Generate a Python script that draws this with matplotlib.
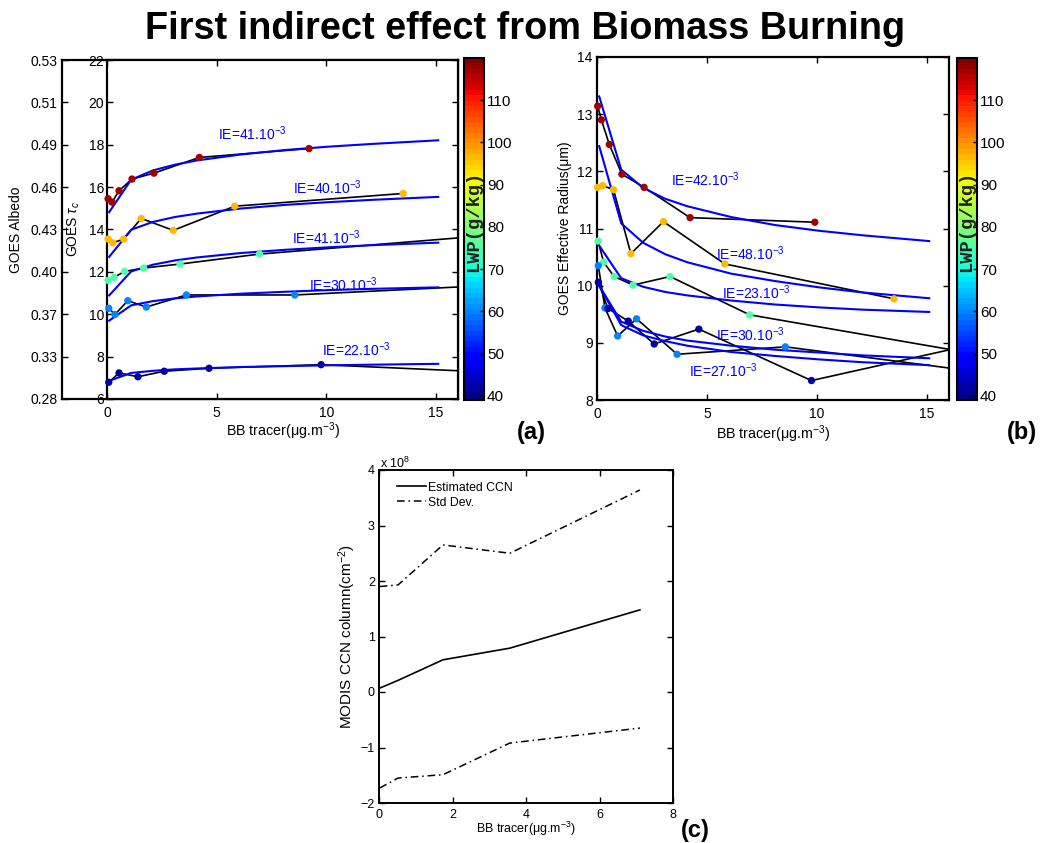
import matplotlib.pyplot as plt
from matplotlib.cm import ScalarMappable
from matplotlib.colors import Normalize

plt.rcParams["font.family"] = ["Liberation Sans", "DejaVu Sans"]
plt.rcParams["mathtext.fontset"] = "custom"
plt.rcParams["mathtext.rm"] = "Liberation Sans"
plt.rcParams["mathtext.it"] = "Liberation Sans:italic"
plt.rcParams["mathtext.bf"] = "Liberation Sans:bold"

# LWP class of each series (g/kg) -> marker colour
lwp_classes = [117, 97, 75, 60, 42]
lwp_min, lwp_max = 39, 120
cbar_ticks = [40, 50, 60, 70, 80, 90, 100, 110]

# panel (a): GOES optical thickness, one series per LWP class
a_x_117 = [0.05, 0.23, 0.55, 1.14, 2.14, 4.21, 9.21]
a_y_117 = [15.45, 15.29, 15.83, 16.38, 16.66, 17.40, 17.82]
a_x_97 = [0.05, 0.27, 0.76, 1.56, 3.02, 5.82, 13.5]
a_y_97 = [13.55, 13.37, 13.55, 14.52, 13.96, 15.10, 15.70]
a_x_75 = [0.05, 0.32, 0.80, 1.67, 3.33, 6.95, 20.0]
a_y_75 = [11.60, 11.74, 12.02, 12.18, 12.37, 12.84, 13.94]
a_x_60 = [0.08, 0.36, 0.95, 1.79, 3.62, 8.56, 20.0]
a_y_60 = [10.28, 9.99, 10.64, 10.34, 10.91, 10.91, 11.49]
a_x_42 = [0.08, 0.55, 1.41, 2.61, 4.65, 9.76, 20.0]
a_y_42 = [6.79, 7.23, 7.05, 7.31, 7.45, 7.62, 7.15]

# fitted curves (same x grid for every fit)
fit_x = [0.1, 1.1, 2.1, 3.1, 4.1, 6.1, 8.1, 10.1, 12.1, 15.1]
fit_a_117 = [14.82, 16.35, 16.79, 17.06, 17.26, 17.54, 17.75, 17.91, 18.04, 18.21]
fit_a_97 = [12.71, 13.99, 14.36, 14.59, 14.75, 14.99, 15.16, 15.29, 15.40, 15.54]
fit_a_75 = [10.89, 12.02, 12.34, 12.54, 12.68, 12.89, 13.04, 13.16, 13.26, 13.38]
fit_a_60 = [9.70, 10.42, 10.62, 10.75, 10.84, 10.97, 11.06, 11.14, 11.20, 11.27]
fit_a_42 = [6.86, 7.23, 7.33, 7.40, 7.44, 7.51, 7.55, 7.59, 7.62, 7.66]

tau_ticks = [6, 8, 10, 12, 14, 16, 18, 20, 22]
albedo_labels = ["0.28", "0.33", "0.37", "0.40", "0.43", "0.46", "0.49", "0.51", "0.53"]

a_ie = ["41", "40", "41", "30", "22"]
a_ie_x = [5.05, 8.5, 8.45, 9.21, 9.82]
a_ie_y = [18.23, 15.69, 13.33, 11.08, 8.01]

# panel (b): GOES effective radius
b_x_117 = [0.03, 0.20, 0.56, 1.13, 2.14, 4.23, 9.90]
b_y_117 = [13.14, 12.90, 12.47, 11.95, 11.72, 11.19, 11.11]
b_x_97 = [0.03, 0.26, 0.75, 1.54, 3.02, 5.81, 13.5]
b_y_97 = [11.72, 11.75, 11.68, 10.56, 11.12, 10.38, 9.77]
b_x_75 = [0.05, 0.30, 0.78, 1.64, 3.32, 6.94, 20.0]
b_y_75 = [10.78, 10.41, 10.16, 10.01, 10.16, 9.49, 8.62]
b_x_60 = [0.06, 0.36, 0.94, 1.80, 3.64, 8.56, 20.0]
b_y_60 = [10.35, 9.61, 9.12, 9.42, 8.80, 8.93, 8.36]
b_x_42 = [0.06, 0.50, 1.42, 2.60, 4.63, 9.75, 20.0]
b_y_42 = [10.06, 9.60, 9.38, 8.98, 9.24, 8.34, 9.22]

fit_b_117 = [13.31, 12.03, 11.71, 11.52, 11.39, 11.20, 11.06, 10.96, 10.88, 10.78]
fit_b_97 = [12.44, 11.09, 10.75, 10.55, 10.41, 10.21, 10.08, 9.97, 9.88, 9.78]
fit_b_75 = [10.70, 10.13, 9.98, 9.89, 9.83, 9.74, 9.67, 9.62, 9.58, 9.54]
fit_b_60 = [10.00, 9.31, 9.13, 9.03, 8.95, 8.84, 8.77, 8.71, 8.66, 8.61]
fit_b_42 = [10.00, 9.37, 9.21, 9.11, 9.04, 8.95, 8.88, 8.83, 8.78, 8.73]

b_ie = ["42", "48", "23", "30", "27"]
b_ie_x = [3.38, 5.42, 5.69, 5.39, 4.18]
b_ie_y = [11.74, 10.45, 9.77, 9.04, 8.41]

# panel (c): MODIS CCN column (x 1e8)
c_x = [0.02, 0.52, 1.74, 3.56, 7.1]
ccn_mean = [0.07, 0.21, 0.58, 0.79, 1.48]
ccn_upper = [1.90, 1.93, 2.65, 2.50, 3.64]
ccn_lower = [-1.73, -1.55, -1.49, -0.92, -0.65]

W, H = 1043, 843
fig = plt.figure(figsize=(W / 100, H / 100), dpi=100)

cmap = plt.get_cmap("jet", 64)
norm = Normalize(vmin=lwp_min, vmax=lwp_max)


def add_axes_px(left, top, right, bottom):
    return fig.add_axes([left / W, 1 - bottom / H, (right - left) / W, (bottom - top) / H])


def style_box(ax, lw=1.6, size=10):
    for s in ax.spines.values():
        s.set_linewidth(lw)
    ax.tick_params(direction="in", top=True, right=True, length=4, width=1, labelsize=size)


def draw_classes(ax, xs, ys, fits):
    for x, y, fit, lwp in zip(xs, ys, fits, lwp_classes):
        ax.plot(x, y, color="k", lw=1.2, zorder=2)
        ax.plot(fit_x, fit, color="#0000ff", lw=1.5, zorder=2.5)
        xin = [v for v in x if v <= 16]
        ax.scatter(xin, y[:len(xin)], c=[lwp] * len(xin), cmap=cmap, norm=norm,
                   s=28, lw=0, zorder=3, clip_on=False)


def add_colorbar(left, right):
    cax = add_axes_px(left, 58, right, 400)
    cb = fig.colorbar(ScalarMappable(norm=norm, cmap=cmap), cax=cax)
    cb.set_ticks(cbar_ticks)
    cb.outline.set_linewidth(1.5)
    cax.tick_params(direction="in", length=3, width=1, labelsize=11, pad=2)
    cax.text(0.5, 0.522, "LWP(g/kg)", transform=cax.transAxes, rotation=90,
             ha="center", va="center", family="Liberation Mono", fontweight="bold",
             fontsize=13.5, color="#202020")


# ---- panel (a) ----
ax_alb = add_axes_px(62, 60, 458, 399)
for s in ax_alb.spines.values():
    s.set_linewidth(1.6)
ax_alb.set_xlim(0, 1)
ax_alb.set_xticks([])
ax_alb.set_ylim(6, 22)
ax_alb.set_yticks(tau_ticks)
ax_alb.set_yticklabels(albedo_labels)
ax_alb.tick_params(axis="y", direction="in", length=4, width=1, labelsize=10, pad=3)
ax_alb.set_ylabel("GOES Albedo", fontsize=10)
ax_alb.yaxis.set_label_coords(-0.098, 0.5)

ax_a = add_axes_px(107, 60, 458, 399)
draw_classes(ax_a,
             [a_x_117, a_x_97, a_x_75, a_x_60, a_x_42],
             [a_y_117, a_y_97, a_y_75, a_y_60, a_y_42],
             [fit_a_117, fit_a_97, fit_a_75, fit_a_60, fit_a_42])
for t, x, y in zip(a_ie, a_ie_x, a_ie_y):
    ax_a.text(x, y, "IE=" + t + ".10$^{-3}$", color="#0000ff", fontsize=10, va="baseline")
ax_a.set_xlim(0, 16)
ax_a.set_ylim(6, 22)
ax_a.set_xticks([0, 5, 10, 15])
ax_a.set_yticks(tau_ticks)
style_box(ax_a)
ax_a.tick_params(axis="y", pad=2)
ax_a.tick_params(axis="x", pad=5)
ax_a.set_ylabel("GOES $\\tau_c$", fontsize=10)
ax_a.yaxis.set_label_coords(-0.071, 0.5)
ax_a.set_xlabel("BB tracer(μg.m$^{-3}$)", fontsize=10.3)
ax_a.xaxis.set_label_coords(0.5, -0.062)
add_colorbar(463.5, 484.3)

# ---- panel (b) ----
ax_b = add_axes_px(597, 57, 949, 400)
draw_classes(ax_b,
             [b_x_117, b_x_97, b_x_75, b_x_60, b_x_42],
             [b_y_117, b_y_97, b_y_75, b_y_60, b_y_42],
             [fit_b_117, fit_b_97, fit_b_75, fit_b_60, fit_b_42])
for t, x, y in zip(b_ie, b_ie_x, b_ie_y):
    ax_b.text(x, y, "IE=" + t + ".10$^{-3}$", color="#0000ff", fontsize=10, va="baseline")
ax_b.set_xlim(0, 16)
ax_b.set_ylim(8, 14)
ax_b.set_xticks([0, 5, 10, 15])
ax_b.set_yticks(range(8, 15))
style_box(ax_b)
ax_b.tick_params(axis="y", pad=3)
ax_b.tick_params(axis="x", pad=5)
ax_b.set_ylabel("GOES Effective Radius(μm)", fontsize=10)
ax_b.yaxis.set_label_coords(-0.071, 0.5)
ax_b.set_xlabel("BB tracer(μg.m$^{-3}$)", fontsize=10.3)
ax_b.xaxis.set_label_coords(0.5, -0.068)
add_colorbar(956.7, 977.3)

# ---- panel (c) ----
ax_c = add_axes_px(379, 470, 673, 803)
dashdot = (0, (5, 2.5, 1, 2.5))
ax_c.plot(c_x, ccn_mean, color="k", lw=1.2, label="Estimated CCN")
ax_c.plot(c_x, ccn_upper, color="k", lw=1.1, ls=dashdot, label="Std Dev.")
ax_c.plot(c_x, ccn_lower, color="k", lw=1.1, ls=dashdot)
ax_c.set_xlim(0, 8)
ax_c.set_ylim(-2, 4)
ax_c.set_xticks(range(0, 9, 2))
ax_c.set_yticks(range(-2, 5))
style_box(ax_c, lw=1.4, size=9)
ax_c.tick_params(axis="y", pad=3)
ax_c.tick_params(axis="x", pad=4)
ax_c.set_ylabel("MODIS CCN column(cm$^{-2}$)", fontsize=11)
ax_c.yaxis.set_label_coords(-0.072, 0.5)
ax_c.set_xlabel("BB tracer(μg.m$^{-3}$)", fontsize=9)
ax_c.xaxis.set_label_coords(0.5, -0.05)
ax_c.legend(loc="upper left", bbox_to_anchor=(0.06, 0.965), frameon=False, fontsize=8.8,
            handlelength=2.4, handletextpad=0.2, labelspacing=0.25, borderpad=0, borderaxespad=0)
fig.text(380 / W, 1 - 467.5 / H, "x 10$^{8}$", fontsize=9, va="baseline")

# titles and panel letters
fig.text(0.5034, 1 - 39 / H, "First indirect effect from Biomass Burning",
         fontsize=27.3, fontweight="bold", ha="center", va="baseline")
fig.text(531.5 / W, 1 - 433 / H, "(a)", fontsize=17, fontweight="bold", ha="center", va="center")
fig.text(1022 / W, 1 - 433 / H, "(b)", fontsize=17, fontweight="bold", ha="center", va="center")
fig.text(695 / W, 1 - 830 / H, "(c)", fontsize=17, fontweight="bold", ha="center", va="center")

fig.savefig("out.png", dpi=100)
